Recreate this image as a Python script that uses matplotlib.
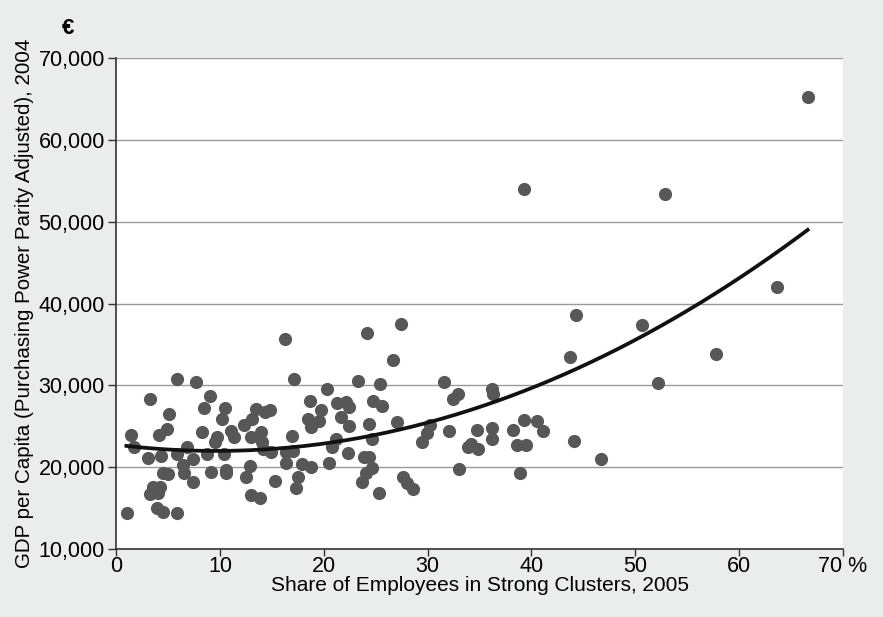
import numpy as np
import matplotlib
matplotlib.use("Agg")
import matplotlib.pyplot as plt
from matplotlib import font_manager
from matplotlib.ticker import FuncFormatter

# share of employees in strong clusters 2005 (%)
share = [1.06, 1.48, 1.76, 3.04, 3.3, 3.3, 3.6, 3.9, 4.0, 4.17, 4.23, 4.33, 4.5, 4.55,
         4.9, 5.03, 5.06, 5.84, 5.84, 5.84, 6.47, 6.5, 6.8, 7.37, 7.37, 7.7, 8.24, 8.5,
         8.8, 9.05, 9.1, 9.55, 9.7, 10.2, 10.4, 10.5, 10.6, 10.6, 11.06, 11.4, 12.3,
         12.5, 12.9, 13.0, 13.0, 13.1, 13.5, 13.9, 14.0, 14.1, 14.2, 14.3, 14.8, 14.97,
         15.3, 16.3, 16.4, 16.4, 16.96, 17.06, 17.1, 17.3, 17.55, 17.9, 18.5, 18.7,
         18.8, 18.8, 19.5, 19.7, 20.3, 20.5, 20.8, 21.2, 21.3, 21.7, 22.1, 22.3, 22.45,
         22.45, 23.3, 23.7, 23.9, 24.1, 24.2, 24.4, 24.4, 24.6, 24.6, 24.7, 25.3, 25.4,
         25.6, 26.7, 27.1, 27.4, 27.6, 28.0, 28.6, 29.5, 29.95, 30.2, 31.6, 32.1, 32.4,
         32.9, 33.0, 33.9, 34.2, 34.8, 34.9, 36.2, 36.2, 36.2, 36.3, 38.2, 38.6, 38.9,
         39.3, 39.3, 39.5, 40.5, 41.1, 43.7, 44.1, 44.3, 46.7, 50.65, 52.2, 52.9, 57.8,
         63.6, 66.6]

# GDP per capita PPP 2004 (EUR)
gdp = [14360, 23900, 22440, 21170, 28340, 16690, 17540, 15050, 16800, 23970, 17540,
       21410, 14560, 19330, 24630, 19130, 26500, 30780, 21660, 14440, 20240, 19250,
       22440, 21050, 18230, 30400, 24300, 27270, 21580, 28700, 19410, 23120, 23740,
       25890, 21660, 27270, 19660, 19250, 24470, 23660, 25160, 18760, 20180, 23660,
       16600, 25930, 27110, 16200, 24340, 23120, 22200, 26800, 27000, 21900, 18290,
       35630, 21900, 20560, 23810, 22030, 30800, 17470, 18740, 20360, 25930, 28090,
       24870, 20070, 25680, 26990, 29560, 20480, 22520, 23500, 27800, 26170, 28000,
       21780, 27330, 25040, 30480, 18140, 21290, 19340, 36360, 25240, 21290, 23420,
       19950, 28090, 16880, 30120, 27520, 33060, 25480, 37500, 18790, 18060, 17350,
       23100, 24200, 25160, 30400, 24360, 28300, 28910, 19800, 22440, 22800, 24570,
       22220, 29510, 24770, 23450, 28910, 24570, 22710, 19280, 25770, 54010, 22710,
       25650, 24460, 33500, 23250, 38640, 21000, 37420, 30290, 53400, 33840, 42030,
       65180]

# quadratic trend: y = a + b*x + c*x^2
trend_coef = [22751, -159.7, 8.315]
trend_range = [1.0, 66.6]

x_ticks = [0, 10, 20, 30, 40, 50, 60, 70]
x_ticklabels = ["0", "10", "20", "30", "40", "50", "60", "70 %"]
y_ticks = [10000, 20000, 30000, 40000, 50000, 60000, 70000]

names = {f.name for f in font_manager.fontManager.ttflist}
base = "Liberation Sans" if "Liberation Sans" in names else "DejaVu Sans"
narrow = "Liberation Sans Narrow" if "Liberation Sans Narrow" in names else base
plt.rcParams["font.family"] = base

bg = "#ebecec"
fig = plt.figure(figsize=(8.83, 6.17), dpi=100, facecolor=bg)
ax = fig.add_axes([0.1314, 0.1102, 0.8233, 0.7958])
ax.set_facecolor("white")

ax.scatter(share, gdp, s=90, color="#575757", linewidths=0, zorder=3)

xs = np.linspace(trend_range[0], trend_range[1], 200)
a, b, c = trend_coef
ax.plot(xs, a + b * xs + c * xs ** 2, color="#111111", lw=2.7, zorder=4)

ax.set_xlim(0, 70)
ax.set_ylim(10000, 70000)
ax.set_xticks(x_ticks)
ax.set_xticklabels(x_ticklabels, fontfamily=narrow, fontsize=15.5)
ax.set_yticks(y_ticks)
ax.yaxis.set_major_formatter(FuncFormatter(lambda v, p: f"{int(v):,}"))
ax.tick_params(axis="y", labelsize=15.5, length=6, width=1, color="#333333", pad=2)
ax.tick_params(axis="x", length=5, width=1, color="#333333", pad=0)

ax.grid(axis="y", color="#9a9a9a", lw=1)
ax.set_axisbelow(True)
ax.spines["right"].set_visible(False)
ax.spines["top"].set_visible(False)
ax.spines["left"].set_color("#333333")
ax.spines["bottom"].set_color("#333333")
ax.spines["left"].set_linewidth(1.2)
ax.spines["bottom"].set_linewidth(1.2)

ax.set_xlabel("Share of Employees in Strong Clusters, 2005", fontfamily=narrow,
              fontsize=15, labelpad=-1)
ax.set_ylabel("GDP per Capita (Purchasing Power Parity Adjusted), 2004", fontsize=14.8,
              labelpad=3)
fig.text(68 / 883, 1 - 28 / 617, "€", fontsize=16, fontweight="bold",
         ha="center", va="center")

fig.savefig("out.png", dpi=100, facecolor=bg)
